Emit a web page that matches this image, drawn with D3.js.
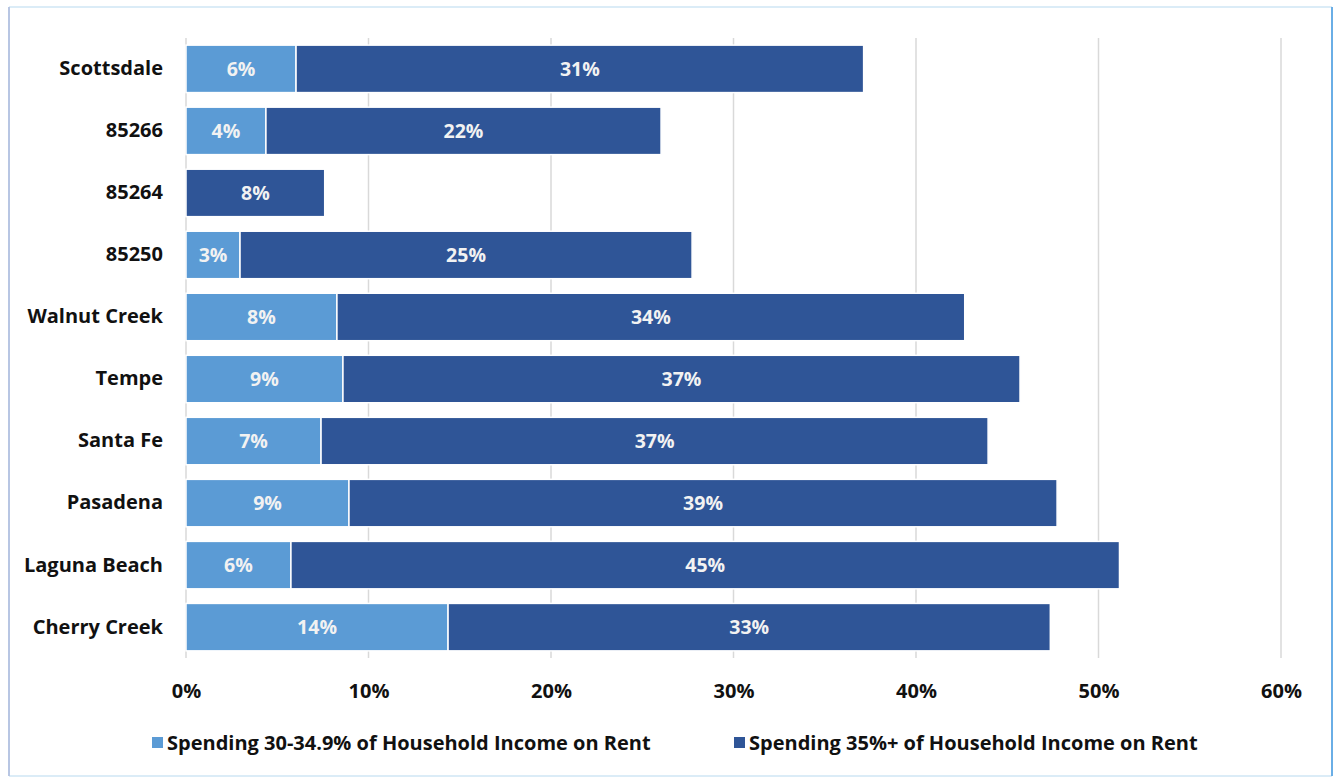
<!DOCTYPE html>
<html>
<head>
<meta charset="utf-8">
<script src="https://cdn.jsdelivr.net/npm/d3@7/dist/d3.min.js"></script>
<style>
  html, body { margin: 0; padding: 0; background: #fff; }
  svg { display: block; font-family: "Open Sans", "Noto Sans", sans-serif; }
</style>
</head>
<body>
<svg id="chart" width="1338" height="780"></svg>
<script>
// Share of renter households by rent burden, per area (fractions of 1)
const areas = ["Scottsdale", "85266", "85264", "85250", "Walnut Creek", "Tempe",
               "Santa Fe", "Pasadena", "Laguna Beach", "Cherry Creek"];
const moderate = [0.0603, 0.0438, 0, 0.0296, 0.0827, 0.086, 0.074, 0.0893, 0.0575, 0.1436];
const severe   = [0.311, 0.2165, 0.076, 0.2477, 0.344, 0.371, 0.3655, 0.388, 0.454, 0.330];
const seriesNames = ["Spending 30-34.9% of Household Income on Rent",
                     "Spending 35%+ of Household Income on Rent"];
const seriesColors = ["#5B9BD5", "#2F5597"];
const xTicks = [0, 0.1, 0.2, 0.3, 0.4, 0.5, 0.6];

const svg = d3.select("#chart");
const W = 1338, H = 780;

// outer frame
svg.append("rect").attr("x", 0).attr("y", 0).attr("width", W).attr("height", H).attr("fill", "#fff");
svg.append("line").attr("x1", 9).attr("x2", 1332).attr("y1", 7).attr("y2", 7)
  .attr("stroke", "#cfe6f5").attr("stroke-width", 1.5);
svg.append("line").attr("x1", 9).attr("x2", 1332).attr("y1", 776).attr("y2", 776)
  .attr("stroke", "#cfe6f5").attr("stroke-width", 1.5);
svg.append("line").attr("x1", 9).attr("x2", 9).attr("y1", 7).attr("y2", 776)
  .attr("stroke", "#b8c6e3").attr("stroke-width", 2);
svg.append("line").attr("x1", 1332).attr("x2", 1332).attr("y1", 7).attr("y2", 776)
  .attr("stroke", "#6aaee6").attr("stroke-width", 2);

const plotLeft = 186, plotRight = 1281, plotTop = 38, plotBottom = 658;

const x = d3.scaleLinear().domain([0, 0.6]).range([plotLeft, plotRight]);
const y = d3.scaleBand().domain(areas).range([plotTop, plotBottom]).paddingInner(0.235).paddingOuter(0.115);

// vertical gridlines
svg.append("g").selectAll("line").data(xTicks).join("line")
  .attr("x1", d => x(d)).attr("x2", d => x(d))
  .attr("y1", plotTop).attr("y2", plotBottom)
  .attr("stroke", "#d9d9d9").attr("stroke-width", 1.5);

// x axis labels
const xAxis = d3.axisBottom(x).tickValues(xTicks).tickFormat(d3.format(".0%")).tickSize(0).tickPadding(0);
const xg = svg.append("g").attr("transform", `translate(0,${plotBottom})`).call(xAxis);
xg.select(".domain").remove();
xg.selectAll("text").attr("dy", "0.35em").attr("y", 33)
  .attr("font-size", 20).attr("font-weight", 700).attr("fill", "#111")
  .attr("font-family", "'Open Sans', sans-serif");

// y axis labels
const yAxis = d3.axisLeft(y).tickSize(0).tickPadding(23);
const yg = svg.append("g").attr("transform", `translate(${plotLeft},0)`).call(yAxis);
yg.select(".domain").remove();
yg.selectAll("text").attr("font-size", 20).attr("font-weight", 700).attr("fill", "#111")
  .attr("font-family", "'Open Sans', sans-serif");

// stacked bars
const rows = areas.map((a, i) => ({ area: a, v: [moderate[i], severe[i]] }));
const stack = d3.stack().keys([0, 1]).value((d, k) => d.v[k]);
const layers = stack(rows);
const pct = d3.format(".0%");

layers.forEach((layer, k) => {
  const g = svg.append("g");
  const segs = layer.filter(d => d[1] - d[0] > 0);
  g.selectAll("rect").data(segs).join("rect")
    .attr("x", d => x(d[0]))
    .attr("y", d => y(d.data.area))
    .attr("width", d => x(d[1]) - x(d[0]))
    .attr("height", y.bandwidth())
    .attr("fill", seriesColors[k])
    .attr("stroke", "#fff").attr("stroke-width", 1.5);
  g.selectAll("text").data(segs).join("text")
    .attr("x", d => (x(d[0]) + x(d[1])) / 2)
    .attr("y", d => y(d.data.area) + y.bandwidth() / 2)
    .attr("dy", "0.35em")
    .attr("text-anchor", "middle")
    .attr("fill", "#f2f2f2")
    .attr("font-size", 19.5).attr("font-weight", 700)
    .text(d => pct(d[1] - d[0]));
});

// legend
const legendX = [152, 734];
legendX.forEach((lx, k) => {
  const g = svg.append("g").attr("transform", `translate(${lx},743)`);
  g.append("rect").attr("x", 0).attr("y", -6).attr("width", 11).attr("height", 11)
    .attr("fill", seriesColors[k]);
  g.append("text").attr("x", 15).attr("y", 0).attr("dy", "0.35em")
    .attr("font-size", 20).attr("font-weight", 700).attr("fill", "#111")
    .text(seriesNames[k]);
});
</script>
</body>
</html>
